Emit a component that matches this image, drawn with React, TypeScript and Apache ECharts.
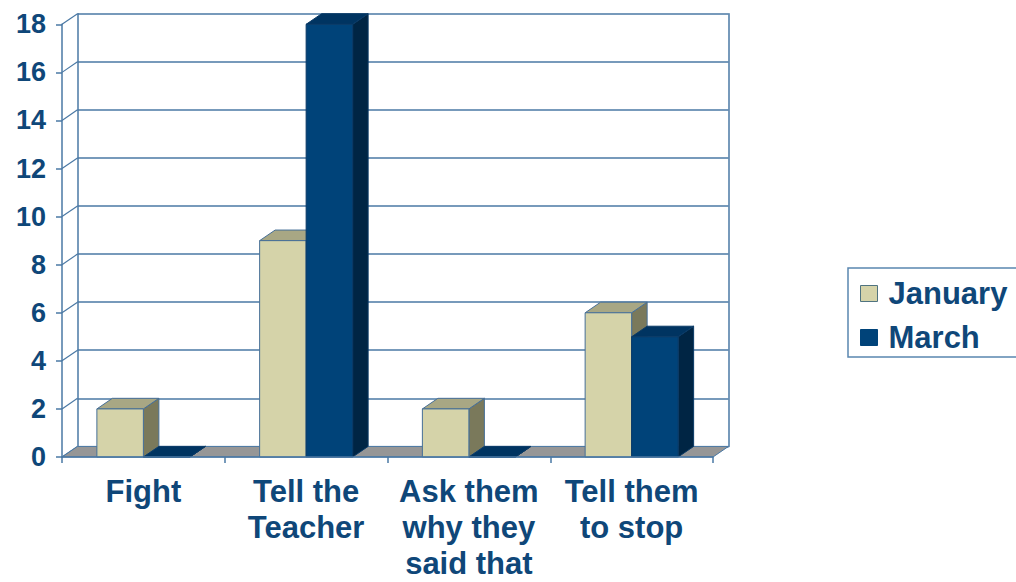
import React, { useEffect, useRef } from "react";
import * as echarts from "echarts";

const categories = ["Fight", "Tell the\nTeacher", "Ask them\nwhy they\nsaid that", "Tell them\nto stop"];
const january = [2, 9, 2, 6];
const march = [0, 18, 0, 5];
const yTicks = [0, 2, 4, 6, 8, 10, 12, 14, 16, 18];
const seriesNames = ["January", "March"];

const DX = 15.5;
const DY = -10.6;
const BAR_W = 46.5;
const TEXT = "#0F4779";
const LINE = "#4A78A4";
const FONT = "'Liberation Sans', Arial, sans-serif";

const JAN = { front: "#D5D3A9", top: "#A8A784", side: "#7A795B", stroke: "#466F97" };
const MAR = { front: "#004379", top: "#003461", side: "#002544", stroke: "#0A3A66" };

function barRenderer(colors: any, sideSign: number) {
  return (params: any, api: any) => {
    const cat = api.value(0);
    const val = api.value(1);
    const base = api.coord([cat, 0]);
    const top = api.coord([cat, val]);
    const cx = base[0];
    const x0 = sideSign < 0 ? cx - BAR_W : cx;
    const x1 = x0 + BAR_W;
    const yb = base[1];
    const yt = top[1];
    const lw = 1;
    return {
      type: "group",
      children: [
        {
          type: "polygon",
          shape: { points: [[x1, yt], [x1 + DX, yt + DY], [x1 + DX, yb + DY], [x1, yb]] },
          style: { fill: colors.side, stroke: colors.stroke, lineWidth: lw },
        },
        {
          type: "polygon",
          shape: { points: [[x0, yt], [x1, yt], [x1 + DX, yt + DY], [x0 + DX, yt + DY]] },
          style: { fill: colors.top, stroke: colors.stroke, lineWidth: lw },
        },
        {
          type: "rect",
          shape: { x: x0, y: yt, width: BAR_W, height: yb - yt },
          style: { fill: colors.front, stroke: colors.stroke, lineWidth: lw },
        },
      ],
    };
  };
}

export default function App() {
  const ref = useRef<HTMLDivElement>(null);
  useEffect(() => {
    if (!ref.current) return;
    const chart = echarts.init(ref.current, undefined, { renderer: "svg" });
    const frontLeft = 62;
    const frontTop = 24.3;
    const gw = 651;
    const gh = 432.7;
    const option: any = {
      animation: false,
      backgroundColor: "#ffffff",
      textStyle: { fontFamily: FONT },
      grid: [
        { left: frontLeft, top: frontTop, width: gw, height: gh, outerBoundsMode: "none", containLabel: false },
        { left: frontLeft + DX, top: frontTop + DY, width: gw, height: gh, outerBoundsMode: "none", containLabel: false },
      ],
      legend: {
        orient: "vertical",
        left: 848,
        top: 268,
        padding: [10, 16, 4, 12],
        itemWidth: 17,
        itemHeight: 16,
        itemGap: 13,
        borderColor: "#5A86B0",
        borderWidth: 1.5,
        backgroundColor: "#ffffff",
        textStyle: { fontSize: 31, fontWeight: "bold", color: TEXT, fontFamily: FONT, lineHeight: 28, padding: [0, 0, 0, 6] },
        data: [
          { name: seriesNames[0], icon: "rect", itemStyle: { color: JAN.front, borderColor: "#4F7380", borderWidth: 1 } },
          { name: seriesNames[1], icon: "rect", itemStyle: { color: MAR.front, borderColor: MAR.front, borderWidth: 1 } },
        ],
      },
      xAxis: [
        {
          type: "category",
          gridIndex: 0,
          data: categories,
          axisLine: { lineStyle: { color: LINE, width: 1.5 } },
          axisTick: { show: true, length: 6, lineStyle: { color: LINE, width: 1.5 } },
          axisLabel: {
            interval: 0,
            margin: 16.5,
            fontSize: 31,
            fontWeight: "bold",
            color: TEXT,
            fontFamily: FONT,
            lineHeight: 36,
          },
          splitLine: { show: false },
          z: 5,
        },
        {
          type: "category",
          gridIndex: 1,
          data: categories,
          show: false,
        },
      ],
      yAxis: [
        {
          type: "value",
          gridIndex: 0,
          min: 0,
          max: 18,
          interval: 2,
          axisLine: { show: true, lineStyle: { color: LINE, width: 1.5 } },
          axisTick: { show: true, length: 6, lineStyle: { color: LINE, width: 1.5 } },
          axisLabel: { margin: 16, fontSize: 27, fontWeight: "bold", color: TEXT, fontFamily: FONT },
          splitLine: { show: false },
        },
        {
          type: "value",
          gridIndex: 1,
          min: 0,
          max: 18,
          interval: 2,
          axisLine: { show: true, lineStyle: { color: LINE, width: 1.5 } },
          axisTick: { show: false },
          axisLabel: { show: false },
          splitLine: { show: true, lineStyle: { color: LINE, width: 1.5 } },
        },
        {
          type: "value",
          gridIndex: 1,
          position: "right",
          min: 0,
          max: 18,
          interval: 2,
          axisLine: { show: true, lineStyle: { color: LINE, width: 1.5 } },
          axisTick: { show: false },
          axisLabel: { show: false },
          splitLine: { show: false },
        },
      ],
      series: [
        {
          type: "custom",
          name: "walls",
          xAxisIndex: 0,
          yAxisIndex: 0,
          silent: true,
          data: yTicks.map((v) => [0, v]),
          renderItem: (params: any, api: any) => {
            const p = api.coord([0, api.value(1)]);
            const x = params.coordSys.x;
            return {
              type: "line",
              shape: { x1: x, y1: p[1], x2: x + DX, y2: p[1] + DY },
              style: { stroke: LINE, lineWidth: 1.2 },
            };
          },
        },
        {
          type: "custom",
          name: "floor",
          xAxisIndex: 0,
          yAxisIndex: 0,
          silent: true,
          data: [[0, 0]],
          renderItem: (params: any, api: any) => {
            const cs = params.coordSys;
            const y0 = api.coord([0, 0])[1];
            const xl = cs.x;
            const xr = cs.x + cs.width;
            return {
              type: "polygon",
              shape: { points: [[xl, y0], [xr, y0], [xr + DX, y0 + DY], [xl + DX, y0 + DY]] },
              style: { fill: "#969696", stroke: LINE, lineWidth: 1 },
            };
          },
        },
        {
          type: "custom",
          name: seriesNames[0],
          xAxisIndex: 0,
          yAxisIndex: 0,
          itemStyle: { color: JAN.front },
          data: january.map((v, i) => [i, v]),
          renderItem: barRenderer(JAN, -1),
        },
        {
          type: "custom",
          name: seriesNames[1],
          xAxisIndex: 0,
          yAxisIndex: 0,
          itemStyle: { color: MAR.front },
          data: march.map((v, i) => [i, v]),
          renderItem: barRenderer(MAR, 1),
        },
      ],
    };
    chart.setOption(option);
    return () => chart.dispose();
  }, []);
  return (
    <div
      ref={ref}
      style={{ position: "fixed", left: 0, top: 0, width: 1016, height: 582, background: "#fff" }}
    />
  );
}
